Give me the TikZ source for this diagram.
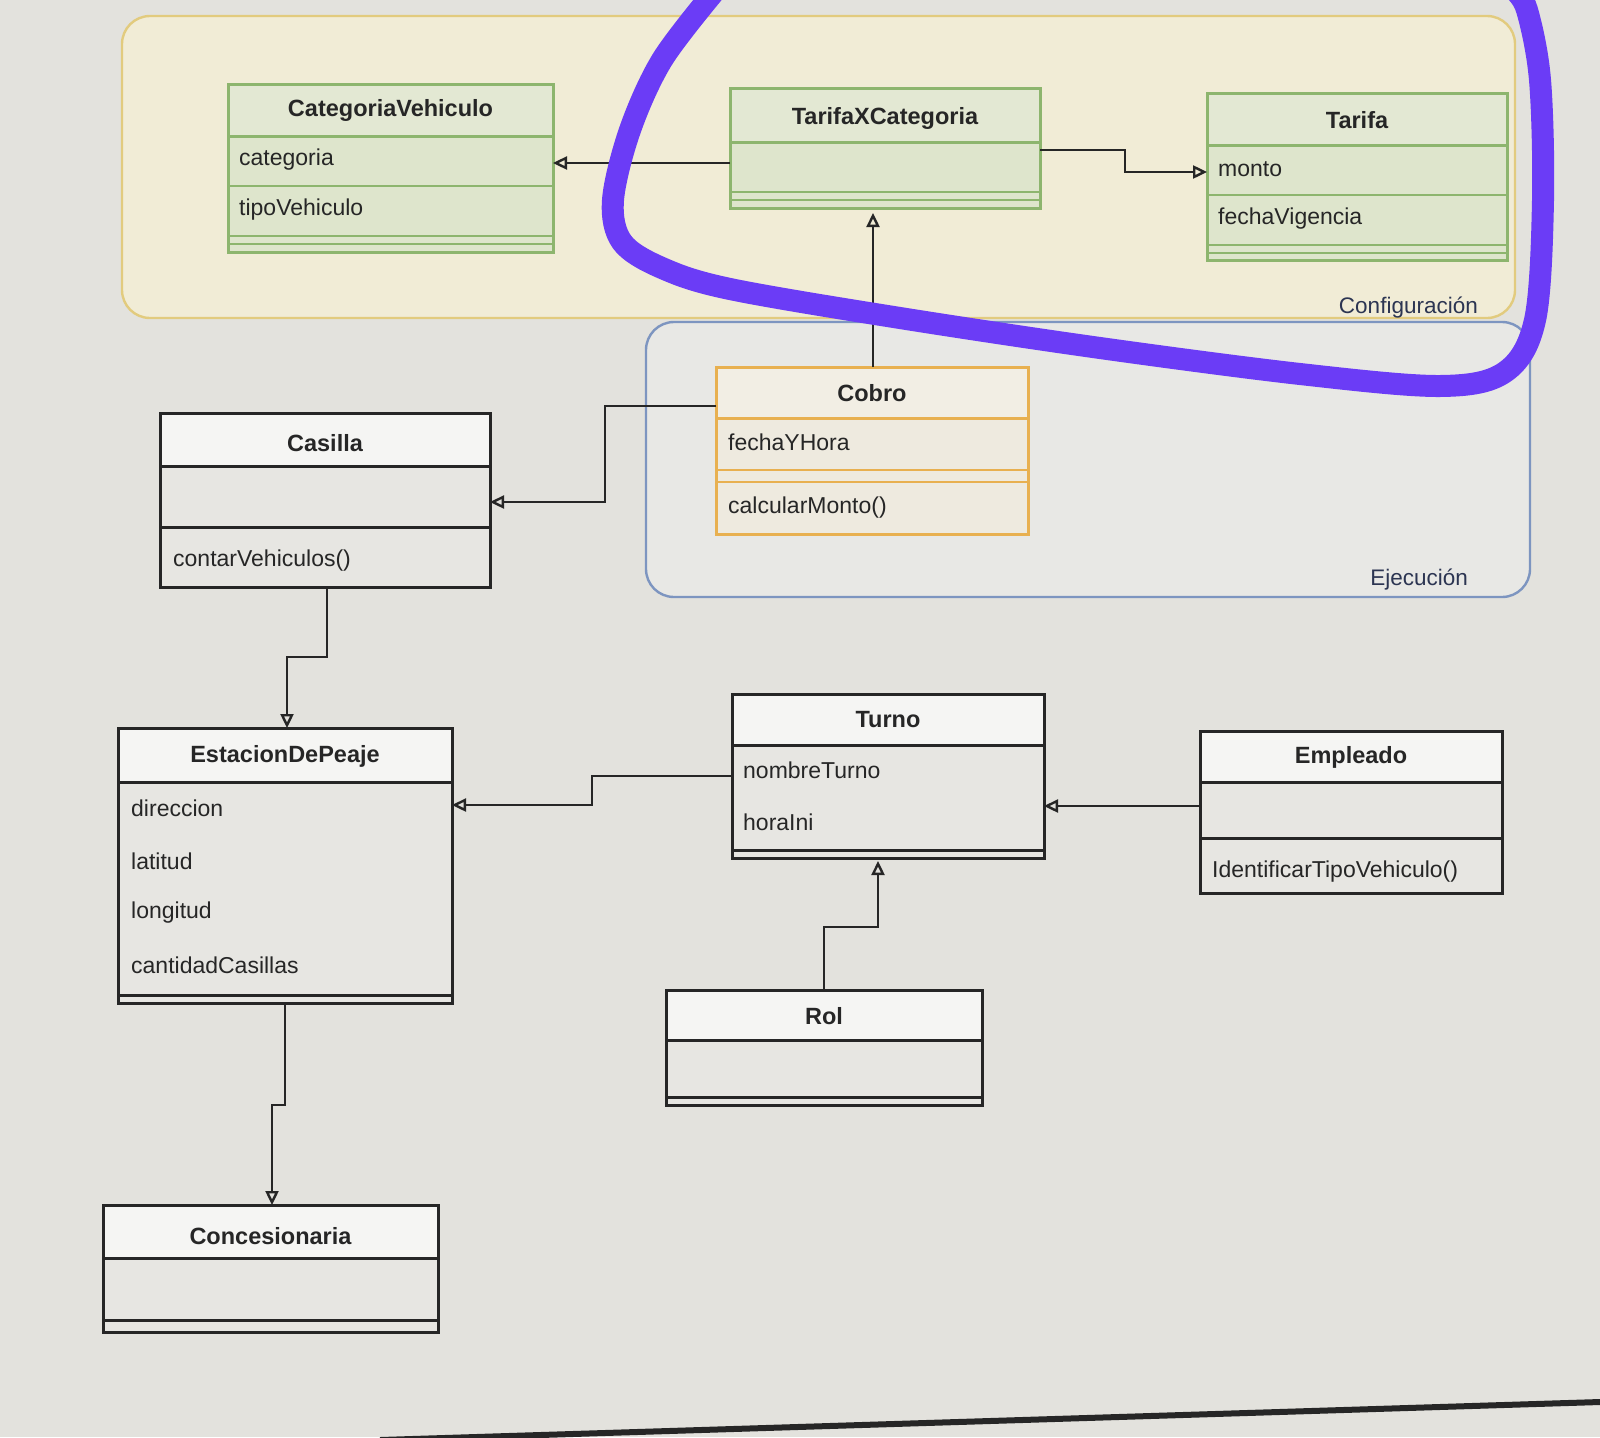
\documentclass[tikz,border=0pt]{standalone}
\usepackage{fontspec}
\setmainfont{Liberation Sans}
\usetikzlibrary{arrows.meta,fit}
\definecolor{bg}{HTML}{E3E2DD}
\definecolor{ink}{HTML}{262626}
\definecolor{cfgfill}{HTML}{F1ECD6}
\definecolor{cfgline}{HTML}{E2CB7E}
\definecolor{exefill}{HTML}{E8E8E5}
\definecolor{exeline}{HTML}{7D95C0}
\definecolor{gline}{HTML}{8DB56E}
\definecolor{gfill}{HTML}{DEE5CC}
\definecolor{ghead}{HTML}{E3E8D3}
\definecolor{oline}{HTML}{E8B050}
\definecolor{ofill}{HTML}{EEEADF}
\definecolor{ohead}{HTML}{F2EEE4}
\definecolor{whead}{HTML}{F5F5F3}
\definecolor{wbody}{HTML}{E7E6E2}
\definecolor{lblink}{HTML}{2C3552}
\definecolor{marker}{HTML}{6B3CF6}
\newcommand{\umlclass}[9]{%
  \node[fit={(#2,#3) (#4,#5)}, inner sep=0pt, outer sep=0pt, fill=#9] (#1) {};
  \fill[#8] (#2,#3) rectangle (#4,#6);
  \draw[#7, line width=3pt] (#2,#6) -- (#4,#6);
  \draw[#7, line width=3pt] (#1.north west) rectangle (#1.south east);
}
\begin{document}
\begin{tikzpicture}[x=1pt,y=-1pt,
  ttl/.style={font=\fontsize{23.5}{27}\selectfont\bfseries, text=ink, inner sep=0pt},
  attr/.style={anchor=west, font=\fontsize{23}{27}\selectfont, text=ink, inner sep=0pt},
  lbl/.style={anchor=east, font=\fontsize{22.5}{26}\selectfont, text=lblink, inner sep=0pt},
  sepg/.style={draw=gline, line width=2.6pt},
  sepo/.style={draw=oline, line width=2.6pt},
  sepk/.style={draw=ink, line width=3pt},
  arr/.style={draw=ink, line width=2.8pt, -{Triangle[open, length=14pt, width=13pt, line width=2.4pt]}},
  group/.style={inner sep=0pt, outer sep=0pt, rounded corners=28pt, line width=2.4pt}]
\useasboundingbox (0,0) rectangle (1600,1437);
\fill[bg] (0,0) rectangle (1600,1437);

% containers
\node[group, fit={(122,16) (1515,318)}, draw=cfgline, fill=cfgfill] (cfg) {};
\node[group, fit={(646,322) (1530,597)}, draw=exeline, fill=exefill] (exe) {};
\node[lbl] (cfglbl) at (1478,308) {Configuración};
\node[lbl] (exelbl) at (1468,580) {Ejecución};

% CategoriaVehiculo
\umlclass{cv}{228}{84}{553}{252}{136}{gline}{ghead}{gfill}
\draw[sepg] (228,186) -- (553,186);
\draw[sepg] (228,236) -- (553,236);
\draw[sepg] (228,244) -- (553,244);
\node[ttl] (cvt) at (390.5,110) {CategoriaVehiculo};
\node[attr] (cva1) at (239,160) {categoria};
\node[attr] (cva2) at (239,210) {tipoVehiculo};

% TarifaXCategoria
\umlclass{txc}{730}{88}{1040}{208}{142}{gline}{ghead}{gfill}
\draw[sepg] (730,192) -- (1040,192);
\draw[sepg] (730,200) -- (1040,200);
\node[ttl] (txct) at (885,118) {TarifaXCategoria};

% Tarifa
\umlclass{tar}{1207}{93}{1507}{260}{145}{gline}{ghead}{gfill}
\draw[sepg] (1207,195) -- (1507,195);
\draw[sepg] (1207,245) -- (1507,245);
\draw[sepg] (1207,253) -- (1507,253);
\node[ttl] (tart) at (1357,120) {Tarifa};
\node[attr] (tara1) at (1218,169) {monto};
\node[attr] (tara2) at (1218,219) {fechaVigencia};

% Cobro
\umlclass{cob}{716}{367}{1028}{534}{418}{oline}{ohead}{ofill}
\draw[sepo] (716,470) -- (1028,470);
\draw[sepo] (716,482) -- (1028,482);
\node[ttl] (cobt) at (872,393) {Cobro};
\node[attr] (coba1) at (728,442) {fechaYHora};
\node[attr] (cobm1) at (728,508) {calcularMonto()};

% Casilla
\umlclass{cas}{160}{413}{490}{587}{466}{ink}{whead}{wbody}
\draw[sepk] (160,527) -- (490,527);
\node[ttl] (cast) at (325,443) {Casilla};
\node[attr] (casm1) at (173,561) {contarVehiculos()};

% EstacionDePeaje
\umlclass{est}{118}{728}{452}{1003}{782}{ink}{whead}{wbody}
\draw[sepk] (118,995) -- (452,995);
\node[ttl] (estt) at (285,756) {EstacionDePeaje};
\node[attr] (esta1) at (131,808) {direccion};
\node[attr] (esta2) at (131,861) {latitud};
\node[attr] (esta3) at (131,913) {longitud};
\node[attr] (esta4) at (131,965) {cantidadCasillas};

% Concesionaria
\umlclass{con}{103}{1205}{438}{1332}{1258}{ink}{whead}{wbody}
\draw[sepk] (103,1320) -- (438,1320);
\node[ttl] (cont) at (270.5,1236) {Concesionaria};

% Turno
\umlclass{tur}{732}{694}{1044}{858}{745}{ink}{whead}{wbody}
\draw[sepk] (732,850) -- (1044,850);
\node[ttl] (turt) at (888,720) {Turno};
\node[attr] (tura1) at (743,770) {nombreTurno};
\node[attr] (tura2) at (743,822) {horaIni};

% Empleado
\umlclass{emp}{1200}{731}{1502}{893}{782}{ink}{whead}{wbody}
\draw[sepk] (1200,838) -- (1502,838);
\node[ttl] (empt) at (1351,757) {Empleado};
\node[attr] (empm1) at (1212,872) {IdentificarTipoVehiculo()};

% Rol
\umlclass{rol}{666}{990}{982}{1105}{1040}{ink}{whead}{wbody}
\draw[sepk] (666,1097) -- (982,1097);
\node[ttl] (rolt) at (824,1016) {Rol};

% connectors
\draw[arr] ([yshift=-15pt]txc.west) -- ([yshift=-15pt]txc.west -| cv.east);
\draw[arr] ([yshift=-2pt]txc.east) -- ++(85,0) |- ([yshift=4.5pt]tar.west);
\draw[arr, shorten >=5pt] ([xshift=1pt]cob.north) -- ([xshift=1pt]cob.north |- txc.south);
\draw[arr] ([yshift=44.5pt]cob.west) -- ++(-111,0) |- ([yshift=-2pt]cas.east);
\draw[arr] ([xshift=2pt]cas.south) -- ++(0,70) -| ([xshift=2pt]est.north);
\draw[arr] (est.south) -- ++(0,102) -| ([xshift=1.5pt]con.north);
\draw[arr] (tur.west) -- ++(-140,0) |- ([yshift=60.5pt]est.east);
\draw[arr] ([yshift=6pt]emp.west) -- ([yshift=6pt]emp.west -| tur.east);
\draw[arr, shorten >=3pt] (rol.north) -- ++(0,-63) -| ([xshift=-10pt]tur.south);

% hand-drawn marker loop
\draw[marker, line width=22pt, line cap=round, line join=round]
  plot[smooth, tension=0.55] coordinates {(714,-8) (662,60) (630,130) (613,200) (622,242) (662,268) (730,289) (900,318) (1100,348) (1300,374) (1440,386) (1505,372) (1535,320) (1543,200) (1540,80) (1527,10) (1514,-10)};

% screen edge
\draw[ink, line width=6pt] (380,1440) -- (1600,1402);
\end{tikzpicture}
\end{document}
